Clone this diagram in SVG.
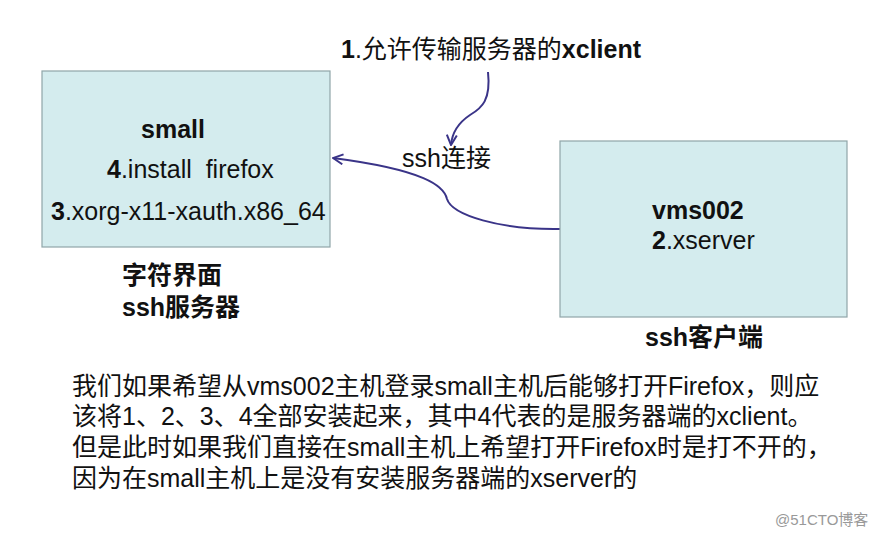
<svg xmlns="http://www.w3.org/2000/svg" width="883" height="537" viewBox="0 0 883 537">
<defs>
<style>
.box{fill:#d4ecee;stroke:#8fa6a8;stroke-width:1.2}
.t{font-family:"Liberation Sans","Noto Sans CJK SC",sans-serif;font-size:25px;fill:#111;white-space:pre}
.b{font-weight:bold}
.p{font-family:"Liberation Sans","Noto Sans CJK SC",sans-serif;font-size:25px;fill:#111}
.c{fill:none;stroke:#3a3488;stroke-width:2}
</style>
<marker id="arr" viewBox="0 0 12 12" refX="11" refY="6" markerWidth="12" markerHeight="12" markerUnits="userSpaceOnUse" orient="auto">
<path d="M1,1 L11,6 L1,11" fill="none" stroke="#3a3488" stroke-width="2"/>
</marker>
</defs>
<rect width="883" height="537" fill="#ffffff"/>
<g id="connectors">
<path class="c" d="M560,229 C500,230 452,215 447,199 C444,186 425,170 333,158" marker-end="url(#arr)"/>
<path class="c" d="M488,72 C491,100 482,108 470,115 C458,123 452,133 451,145" marker-end="url(#arr)"/>
</g>
<g id="small">
<rect class="box" x="42" y="71" width="288" height="176"/>
<text class="t b" x="141" y="138">small</text>
<text class="t" x="107" y="178" xml:space="preserve"><tspan class="b">4</tspan>.install  firefox</text>
<text class="t" x="51" y="220"><tspan class="b">3</tspan>.xorg-x11-xauth.x86_64</text>
</g>
<g id="small-label">
<text class="t b" x="122" y="284">字符界面</text>
<text class="t b" x="122" y="316">ssh服务器</text>
</g>
<g id="vms002">
<rect class="box" x="560" y="141" width="287" height="176"/>
<text class="t b" x="652" y="219">vms002</text>
<text class="t" x="652" y="249"><tspan class="b">2</tspan>.xserver</text>
</g>
<g id="vms002-label">
<text class="t b" x="645" y="346">ssh客户端</text>
</g>
<g id="xclient-label">
<text class="t" x="341" y="58"><tspan class="b">1</tspan>.允许传输服务器的<tspan class="b">xclient</tspan></text>
</g>
<g id="ssh-label">
<text class="t" x="402" y="167">ssh连接</text>
</g>
<g id="paragraph">
<text class="p" x="72" y="395">我们如果希望从vms002主机登录small主机后能够打开Firefox，则应</text>
<text class="p" x="72" y="425">该将1、2、3、4全部安装起来，其中4代表的是服务器端的xclient。</text>
<text class="p" x="72" y="456">但是此时如果我们直接在small主机上希望打开Firefox时是打不开的，</text>
<text class="p" x="72" y="487">因为在small主机上是没有安装服务器端的xserver的</text>
</g>
<text x="775" y="525" font-family="Liberation Sans,Noto Sans CJK SC,sans-serif" font-size="15" fill="#999">@51CTO博客</text>
</svg>
